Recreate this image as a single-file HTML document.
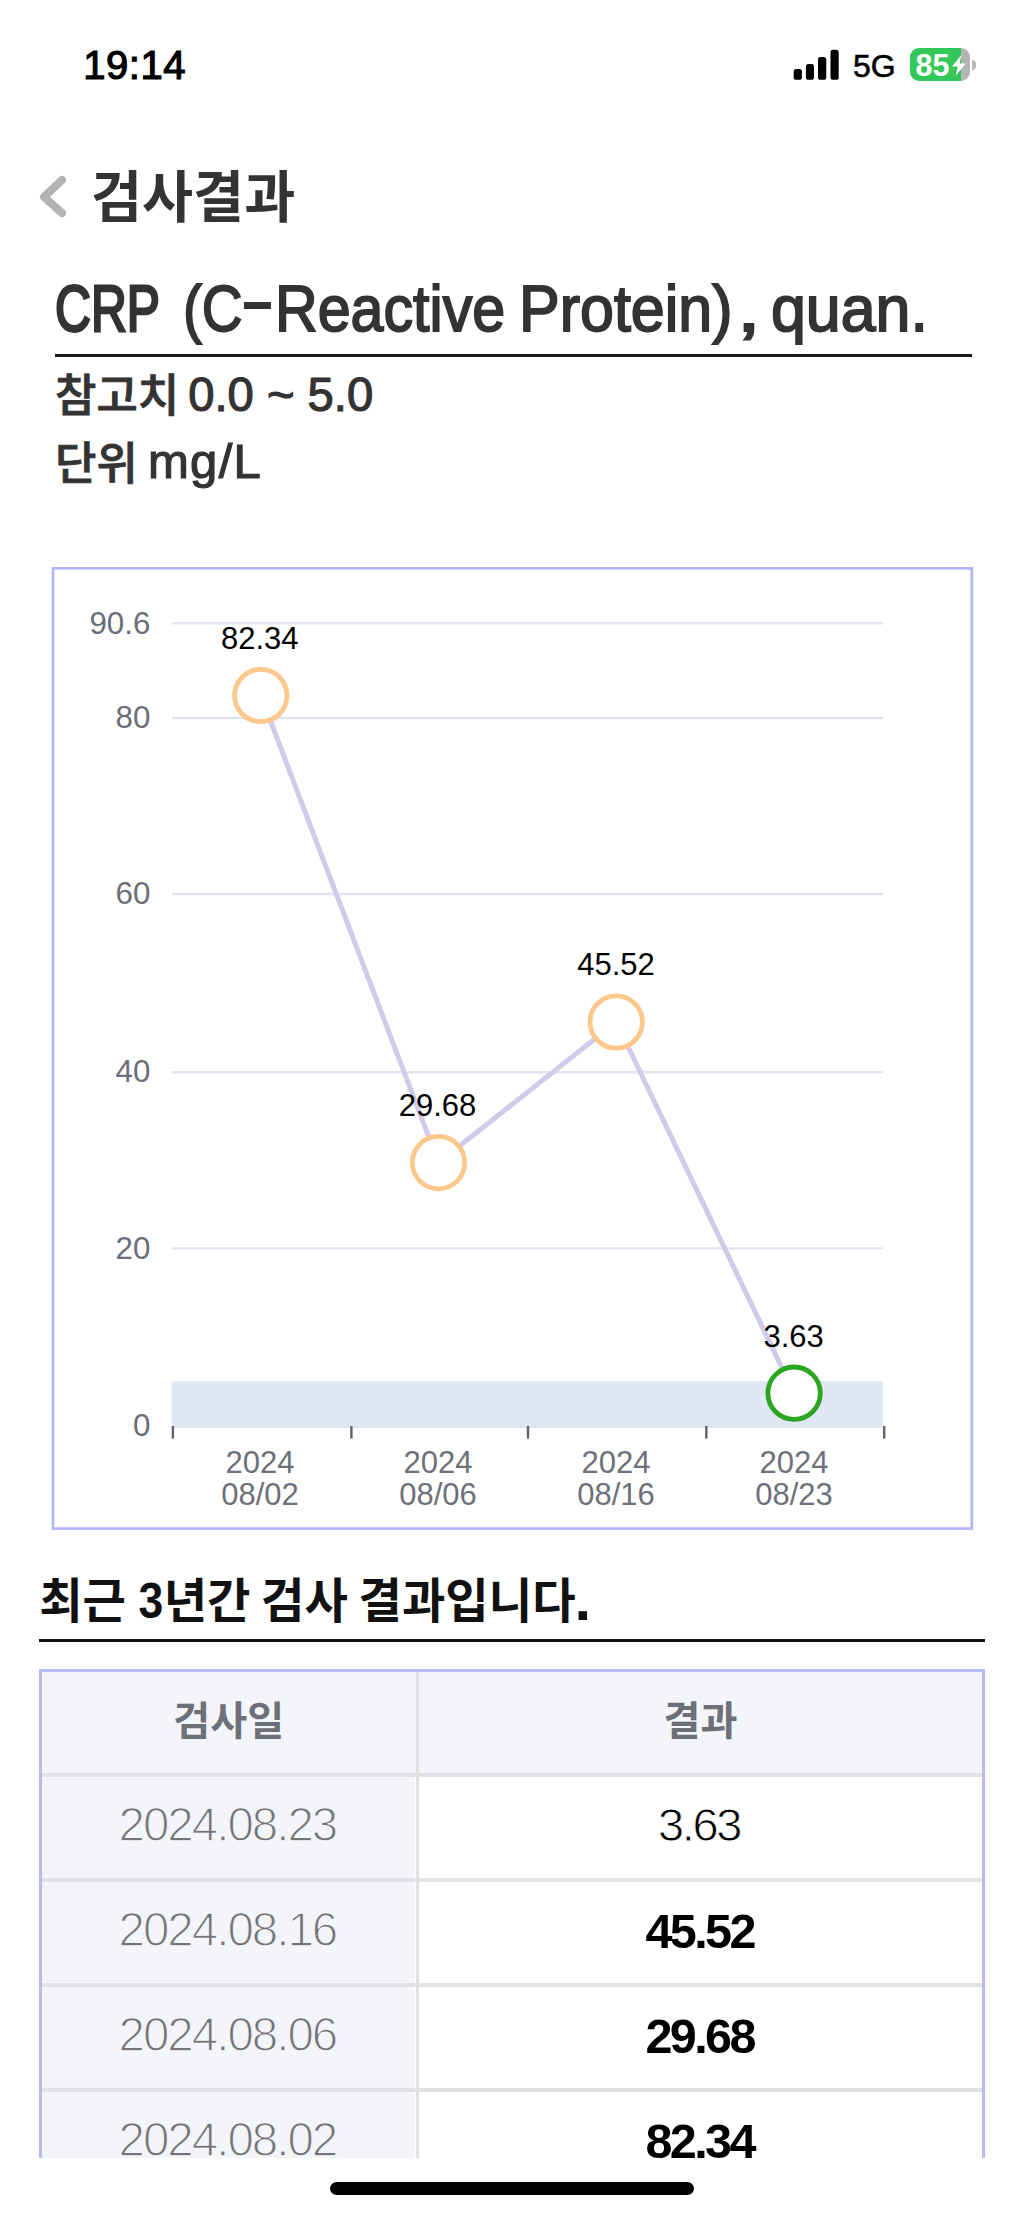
<!DOCTYPE html>
<html lang="ko">
<head>
<meta charset="utf-8">
<title>검사결과</title>
<style>
  html, body { margin: 0; padding: 0; background: #fff; }
  body { width: 1024px; height: 2216px; position: relative; overflow: hidden;
         font-family: "Liberation Sans", "Noto Sans CJK KR", sans-serif; color: #333; }
  .abs { position: absolute; white-space: nowrap; line-height: 1; }
  .kr { font-family: "Liberation Sans", "Noto Sans CJK KR", sans-serif; }

  /* status bar */
  #time { left: 83.3px; top: 45px; font-size: 40px; font-weight: 400; color: #000; letter-spacing: 0.5px; -webkit-text-stroke: 1.2px #000; }
  #fiveg { left: 853px; top: 50px; font-size: 32px; font-weight: 400; color: #000; -webkit-text-stroke: 0.6px #000; }
  #batt { left: 910px; top: 48px; width: 60px; height: 33px; border-radius: 9px; overflow: hidden;
          background: linear-gradient(to right, #34c759 0, #34c759 51px, #b4b4b4 51px, #b4b4b4 100%); }
  #batt span { position: absolute; left: 5.5px; top: 1.8px; font-size: 30.5px; font-weight: 700; color: #fff; line-height: 1; letter-spacing: 0; }
  #nub { left: 972px; top: 60px; width: 4px; height: 10px; background: #b9b9b9; border-radius: 0 5px 5px 0; }

  /* header */
  #hdr { left: 91px; top: 171px; font-size: 55.5px; font-weight: 700; color: #333; }

  #title { left: 0; top: 275.5px; width: 1024px; height: 80px; font-size: 65.5px; font-weight: 400; color: #333; -webkit-text-stroke: 1.9px #333; }
  #title span { position: absolute; top: 0; line-height: 1; transform-origin: 0 50%; transform: scaleX(1); }
  #titleline { left: 55px; top: 353.8px; width: 916.6px; height: 3.4px; background: #1a1a1a; }
  #ref, #unit { left: 0; width: 600px; height: 60px; font-size: 45px; font-weight: 500; color: #333; -webkit-text-stroke: 0.8px #333; }
  #ref span, #unit span { position: absolute; top: 0; line-height: 1; }
  #ref .l, #unit .l { font-size: 46.5px; -webkit-text-stroke: 1.2px #333; }
  #ref { top: 374px; }
  #unit { top: 442.3px; }

  #sect { left: 39.2px; top: 1578.4px; word-spacing: -2.5px; font-size: 47.2px; font-weight: 700; color: #111; }
  #sectline { left: 39.4px; top: 1639.1px; width: 945.4px; height: 3.4px; background: #111; }

  /* table */
  #tbl { left: 39.3px; top: 1669px; width: 945.4px; height: 489.3px; overflow: hidden; }
  #tbl .bg1 { position: absolute; left: 0; top: 0; width: 376px; height: 100%; background: #f4f5fb; }
  #tbl .hbg { position: absolute; left: 0; top: 0; width: 100%; height: 104px; background: #f4f5fb; }
  #tbl .h { position: absolute; left: 0; width: 100%; height: 4px; background: #e2e2e2; }
  #tbl .v { position: absolute; left: 376.6px; top: 0; width: 3px; height: 100%; background: #e2e2e2; }
  #tbl .bt { position: absolute; left: 0; top: 0; width: 100%; height: 2.8px; background: #b8baf7; }
  #tbl .bl { position: absolute; left: 0; top: 0; width: 2.7px; height: 100%; background: #b8baf7; }
  #tbl .br { position: absolute; right: 0; top: 0; width: 2.7px; height: 100%; background: #b8baf7; }
  #tbl .c1, #tbl .c2 { position: absolute; text-align: center; line-height: 1; white-space: nowrap; }
  #tbl .c1 { left: 0.7px; width: 376px; }
  #tbl .c2 { left: 379.7px; width: 563px; }
  #tbl .th { font-size: 40.2px; font-weight: 700; color: #6e7077; }
  #tbl .d { font-size: 47.5px; letter-spacing: -2.0px; color: #747476; -webkit-text-stroke: 1.3px #f4f5fb; }
  #tbl .r { font-size: 47px; letter-spacing: -2.4px; color: #000; -webkit-text-stroke: 0.9px #fff; }
  #tbl .b { font-weight: 700; font-size: 48.5px; letter-spacing: -2.6px; -webkit-text-stroke: 0; }

  #home { left: 330px; top: 2182px; width: 364px; height: 13px; border-radius: 6.5px; background: #000; }
</style>
</head>
<body>
  <div class="abs" id="time">19:14</div>
  <svg class="abs" style="left:790px;top:46px" width="52" height="38" viewBox="0 0 52 38">
    <rect x="3.7" y="23.1" width="8.2" height="10.7" rx="2.6" fill="#000"/>
    <rect x="15.9" y="18" width="8.1" height="15.8" rx="2.6" fill="#000"/>
    <rect x="28" y="11" width="8.25" height="22.8" rx="2.6" fill="#000"/>
    <rect x="40.5" y="3.8" width="8.2" height="30" rx="2.6" fill="#000"/>
  </svg>
  <div class="abs" id="fiveg">5G</div>
  <div class="abs" id="batt"><span>85</span></div>
  <svg class="abs" style="left:951px;top:54px" width="16" height="23" viewBox="0 0 16 23">
    <path d="M10.2 1.2 L1 12.6 L6.8 12.6 L4.6 21.8 L14.8 9.6 L8.6 9.6 Z" fill="#fff"/>
  </svg>
  <div class="abs" id="nub"></div>

  <svg class="abs" style="left:30px;top:166px" width="46" height="60" viewBox="0 0 46 60">
    <path d="M32 14 L14 31 L32 47" fill="none" stroke="#b3b3b3" stroke-width="8" stroke-linecap="round" stroke-linejoin="round"/>
  </svg>
  <div class="abs kr" id="hdr">검사결과</div>

  <div class="abs" id="title"><span id="w1" style="left:54.9px;transform:scaleX(0.759);-webkit-text-stroke:2.8px #333">CRP</span> <span id="w2" style="left:183px;transform:scaleX(0.862)">(C</span><span id="w3" style="left:241.2px;top:-7.3px;transform:scaleX(1.51)">-</span><span id="w4" style="left:275.2px;transform:scaleX(0.903)">Reactive</span> <span id="w5" style="left:519.4px;transform:scaleX(0.931)">Protein)</span><span id="w6" style="left:736.5px;transform:scaleX(1.3)">,</span> <span id="w7" style="left:770.5px;transform:scaleX(0.957)">quan.</span></div>
  <div class="abs" id="titleline"></div>
  <div class="abs kr" id="ref"><span style="left:55px">참고치</span> <span class="l" style="left:188.2px;top:-2.9px;font-size:47.2px">0.0 ~ 5.0</span></div>
  <div class="abs kr" id="unit"><span style="left:55px">단위</span> <span class="l" style="left:148px;top:-4.9px;font-size:49px;letter-spacing:1.3px">mg/L</span></div>

  <svg class="abs" style="left:0;top:560px" width="1024" height="980" viewBox="0 560 1024 980" font-family="'Liberation Sans', sans-serif">
    <rect x="53" y="568.35" width="918.8" height="960.2" fill="none" stroke="#b4b7f6" stroke-width="2.7"/>
    <!-- grid -->
    <g stroke="#e0e6f1" stroke-width="2.4">
      <line x1="172" y1="623.3" x2="883" y2="623.3"/>
      <line x1="172" y1="718" x2="883" y2="718"/>
      <line x1="172" y1="894" x2="883" y2="894"/>
      <line x1="172" y1="1072.2" x2="883" y2="1072.2"/>
      <line x1="172" y1="1248.4" x2="883" y2="1248.4"/>
    </g>
    <rect x="171.8" y="1381.2" width="711" height="46.5" fill="#e2e7f6"/>
    <rect x="171.8" y="1425.4" width="711" height="2.3" fill="#dde3f1"/>
    <g stroke="#5f616b" stroke-width="2.4">
      <line x1="172.9" y1="1426" x2="172.9" y2="1438.6"/>
      <line x1="351.4" y1="1426" x2="351.4" y2="1438.6"/>
      <line x1="528" y1="1426" x2="528" y2="1438.6"/>
      <line x1="706.3" y1="1426" x2="706.3" y2="1438.6"/>
      <line x1="884.2" y1="1426" x2="884.2" y2="1438.6"/>
    </g>
    <g fill="#6b6e78" font-size="31.3" text-anchor="end">
      <text x="150.4" y="633.5">90.6</text>
      <text x="150.4" y="728">80</text>
      <text x="150.4" y="904.3">60</text>
      <text x="150.4" y="1082">40</text>
      <text x="150.4" y="1258.7">20</text>
      <text x="150.4" y="1436">0</text>
    </g>
    <g fill="#6e7079" font-size="31" text-anchor="middle">
      <text x="260" y="1472.5">2024</text><text x="260" y="1504.5">08/02</text>
      <text x="438" y="1472.5">2024</text><text x="438" y="1504.5">08/06</text>
      <text x="616" y="1472.5">2024</text><text x="616" y="1504.5">08/16</text>
      <text x="794" y="1472.5">2024</text><text x="794" y="1504.5">08/23</text>
    </g>
    <polyline points="260.8,695.5 438.5,1162.6 616.2,1022 794.1,1393.2" fill="none" stroke="#cfcbe9" stroke-width="5" stroke-linejoin="round"/>
    <g fill="#fff" stroke-width="4.8">
      <circle cx="260.8" cy="695.5" r="26.2" stroke="#fec88c"/>
      <circle cx="438.5" cy="1162.6" r="26.2" stroke="#fec88c"/>
      <circle cx="616.2" cy="1022" r="26.2" stroke="#fec88c"/>
      <circle cx="794.1" cy="1393.2" r="26.2" stroke="#2aa620"/>
    </g>
    <g fill="#000" font-size="31" text-anchor="middle">
      <text x="259.7" y="648.7">82.34</text>
      <text x="437.5" y="1116">29.68</text>
      <text x="616" y="975.2">45.52</text>
      <text x="793.7" y="1346.8">3.63</text>
    </g>
  </svg>

  <div class="abs kr" id="sect">최근 <span style="font-size:49.5px;line-height:0;display:inline-block;transform:scaleX(0.9);margin:0 -0.6px 0 0.1px">3</span>년간 검사 결과입니다<span style="font-size:60px;line-height:0;margin-left:-1px;position:relative;top:1.5px">.</span></div>
  <div class="abs" id="sectline"></div>

  <div class="abs" id="tbl">
    <div class="bg1"></div><div class="hbg"></div>
    <div class="h" style="top:104px"></div>
    <div class="h" style="top:209px"></div>
    <div class="h" style="top:314px"></div>
    <div class="h" style="top:419px"></div>
    <div class="v"></div>
    <div class="bt"></div><div class="bl"></div><div class="br"></div>
    <div class="c1 th kr" style="top:33px;margin-left:0.7px">검사일</div>
    <div class="c2 th kr" style="top:33px">결과</div>
    <div class="c1 d" style="top:132px;margin-left:-0.6px">2024.08.23</div>
    <div class="c2 r" style="top:131.5px;margin-left:-1.5px">3.63</div>
    <div class="c1 d" style="top:237px;margin-left:-0.6px">2024.08.16</div>
    <div class="c2 r b" style="top:237.5px;margin-left:-0.8px">45.52</div>
    <div class="c1 d" style="top:342px;margin-left:-0.6px">2024.08.06</div>
    <div class="c2 r b" style="top:342.5px;margin-left:-0.8px">29.68</div>
    <div class="c1 d" style="top:447px;margin-left:-0.6px">2024.08.02</div>
    <div class="c2 r b" style="top:447.5px;margin-left:-0.8px">82.34</div>
  </div>

  <div class="abs" id="home"></div>
</body>
</html>
